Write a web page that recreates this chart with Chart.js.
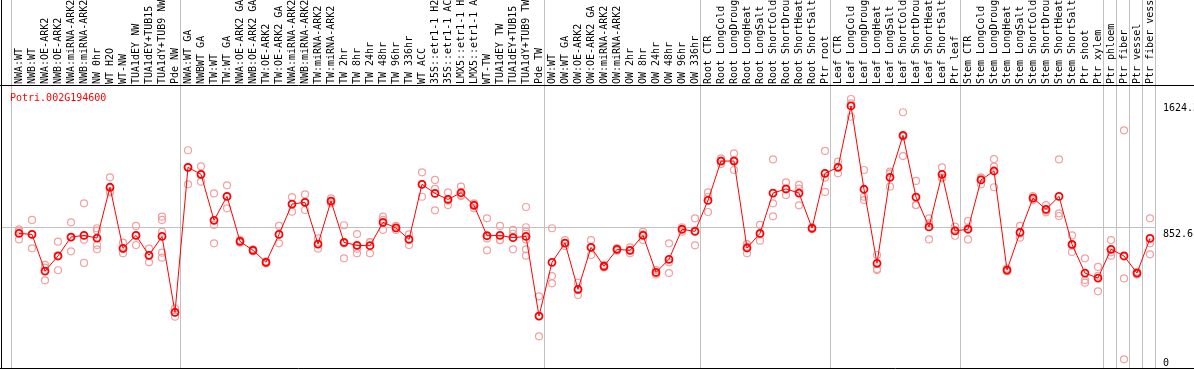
<!DOCTYPE html>
<html lang="en">
<head>
  <meta charset="UTF-8" />
  <title>Potri.002G194600</title>
  <script src="https://cdn.jsdelivr.net/npm/chart.js"></script>
  <style>
    html, body { margin: 0; padding: 0; background: #fff; }
    #wrap { width: 1194px; height: 370px; }
  </style>
</head>
<body>
  <div id="wrap"><canvas id="geneChart" width="1194" height="370"></canvas></div>

  <script>
    const geneName = 'Potri.002G194600';

    const labels = [
      'NWA:WT', 'NWB:WT', 'NWA:OE-ARK2', 'NWB:OE-ARK2', 'NWA:miRNA-ARK2', 'NWB:miRNA-ARK2',
      'NW 0hr', 'WT H2O', 'WT-NW', 'TUA1dEY NW', 'TUA1dEY+TUB15 NW', 'TUA1dY+TUB9 NW', 'Pde NW',
      'NWA:WT GA', 'NWBWT GA', 'TW:WT', 'TW:WT GA', 'NWA:OE-ARK2 GA', 'NWB:OE-ARK2 GA',
      'TW:OE-ARK2', 'TW:OE-ARK2 GA', 'NWA:miRNA-ARK2 GA', 'NWB:miRNA-ARK2 GA', 'TW:miRNA-ARK2',
      'TW:miRNA-ARK2 GA', 'TW 2hr', 'TW 8hr', 'TW 24hr', 'TW 48hr', 'TW 96hr', 'TW 336hr',
      'WT ACC', '35S::etr1-1 H2O', '35S::etr1-1 ACC', 'LMX5::etr1-1 H2O', 'LMX5::etr1-1 ACC',
      'WT-TW', 'TUA1dEY TW', 'TUA1dEY+TUB15 TW', 'TUA1dY+TUB9 TW', 'Pde TW',
      'OW:WT', 'OW:WT GA', 'OW:OE-ARK2', 'OW:OE-ARK2 GA', 'OW:miRNA-ARK2', 'OW:miRNA-ARK2 GA',
      'OW 2hr', 'OW 8hr', 'OW 24hr', 'OW 48hr', 'OW 96hr', 'OW 336hr',
      'Root CTR', 'Root LongCold', 'Root LongDrought', 'Root LongHeat', 'Root LongSalt',
      'Root ShortCold', 'Root ShortDrought', 'Root ShortHeat', 'Root ShortSalt', 'Ptr root',
      'Leaf CTR', 'Leaf LongCold', 'Leaf LongDrought', 'Leaf LongHeat', 'Leaf LongSalt',
      'Leaf ShortCold', 'Leaf ShortDrought', 'Leaf ShortHeat', 'Leaf ShortSalt', 'Ptr leaf',
      'Stem CTR', 'Stem LongCold', 'Stem LongDrought', 'Stem LongHeat', 'Stem LongSalt',
      'Stem ShortCold', 'Stem ShortDrought', 'Stem ShortHeat', 'Stem ShortSalt', 'Ptr shoot',
      'Ptr xylem', 'Ptr phloem', 'Ptr fiber', 'Ptr vessel', 'Ptr fiber vessel'
    ];

    // mean expression per sample
    const means = [
      814, 808, 587, 678, 792, 802, 786, 1092, 724, 802, 682, 796, 338,
      1212, 1170, 893, 1037, 766, 712, 640, 808, 991, 1001, 750, 1009, 760, 742, 740,
      881, 847, 778, 1110, 1055, 1019, 1059, 983, 800, 802, 788, 796, 316,
      640, 756, 477, 730, 616, 718, 712, 802, 579, 658, 839, 826,
      1013, 1250, 1250, 726, 814, 1057, 1082, 1057, 845, 1176,
      1212, 1582, 1080, 634, 1152, 1405, 1033, 853, 1170, 829,
      839, 1136, 1190, 593, 820, 1027, 959, 1037, 748, 575, 545,
      718, 678, 575, 784
    ];

    // individual replicates per sample
    const replicates = [
      [838, 778, 827], [895, 724, 808], [624, 531, 608], [764, 592, 678], [881, 706, 792],
      [995, 636, 776], [845, 831, 744, 718], [1152, 1061, 1066], [758, 694, 722], [859, 744, 802],
      [722, 640, 684], [915, 895, 824, 698, 668], [363, 312, 338],
      [1315, 1110, 1212], [1218, 1126, 1166], [1055, 865, 754], [1104, 965, 1037], [774, 766, 758],
      [718, 712, 706], [646, 640, 634], [859, 754, 808], [1033, 945, 991], [1049, 955, 1001],
      [784, 722, 750], [1025, 995, 1009], [863, 664, 754], [810, 694, 722], [762, 694, 762],
      [915, 835, 895], [859, 835, 847], [808, 744, 778], [1182, 1035, 1110], [1136, 1082, 953],
      [1061, 985, 1011], [1096, 1039, 1045], [995, 965, 989], [905, 712, 784], [859, 774, 774],
      [835, 718, 812], [973, 851, 824, 778, 718, 680], [435, 194, 316],
      [845, 557, 513], [774, 756, 738], [517, 443, 473], [774, 684, 730], [624, 608, 616],
      [726, 718, 710], [730, 694, 712], [824, 774, 808], [567, 593, 577], [754, 640, 575],
      [851, 824, 839], [905, 742, 831],
      [1061, 943, 1035], [1266, 1232, 1252], [1296, 1196, 1256], [750, 694, 734], [865, 770, 808],
      [1260, 995, 917], [1122, 1045, 1078], [1106, 983, 1084], [851, 845, 839], [1311, 1150, 1064],
      [1246, 1176, 1214], [1624, 1517, 1598], [1196, 1035, 1015], [684, 600, 593], [1186, 1096, 1176],
      [1544, 1397, 1280], [1130, 985, 985], [905, 778, 875], [1212, 1146, 1152], [855, 800, 831],
      [889, 778, 849], [1152, 1110, 1146], [1262, 1092, 1216], [602, 593, 585], [859, 788, 814],
      [1039, 1015, 1027], [985, 941, 951], [1260, 935, 919], [802, 702, 740], [664, 533, 517],
      [612, 465, 559],
      [774, 680, 700], [1435, 543, 55], [583, 575, 567], [905, 754, 688]
    ];

    // last sample index of each tissue block (vertical separators)
    const groupEnds = [-1, 12, 40, 52, 62, 72, 83, 84, 85, 86, 87];

    const yTicks = [0, 852.6, 1624.3];
    const yMax = 1705.2;

    const meanPoints = means.map((v, i) => ({ x: i, y: v }));
    const repPoints = [];
    replicates.forEach((reps, i) => reps.forEach(v => repPoints.push({ x: i, y: v })));

    const monoFont = { family: "'DejaVu Sans Mono', monospace", size: 10 };

    const framePlugin = {
      id: 'frame',
      beforeDatasetsDraw(chart) {
        const { ctx, chartArea, scales } = chart;
        ctx.save();
        ctx.strokeStyle = '#c0c0c0';
        ctx.lineWidth = 1;
        groupEnds.forEach(e => {
          const x = Math.round(scales.x.getPixelForValue(e) + 5) + 0.5;
          ctx.beginPath();
          ctx.moveTo(x, 0);
          ctx.lineTo(x, chartArea.bottom);
          ctx.stroke();
        });
        ctx.restore();
      },
      afterDraw(chart) {
        const { ctx, chartArea, scales, width } = chart;
        ctx.save();
        ctx.strokeStyle = '#000';
        ctx.lineWidth = 1;
        ctx.beginPath();
        ctx.moveTo(0, Math.round(chartArea.top) - 0.5);
        ctx.lineTo(width, Math.round(chartArea.top) - 0.5);
        ctx.moveTo(0, Math.round(chartArea.bottom) - 0.5);
        ctx.lineTo(width, Math.round(chartArea.bottom) - 0.5);
        ctx.moveTo(1.5, 0);
        ctx.lineTo(1.5, chartArea.bottom);
        ctx.stroke();

        ctx.font = "10px 'DejaVu Sans Mono', monospace";
        ctx.fillStyle = '#ff0000';
        ctx.textBaseline = 'alphabetic';
        ctx.textAlign = 'left';
        ctx.fillText(geneName, 10, 101);

        // y labels: kept inside the plot band
        ctx.fillStyle = '#000';
        const shift = [-2.5, 10, 12.5];
        yTicks.forEach((v, k) => {
          const y = scales.y.getPixelForValue(v) + shift[k];
          const txt = k === 0 ? '0' : String(v);
          ctx.fillText(txt, 1163, y);
        });
        ctx.restore();
      }
    };

    new Chart(document.getElementById('geneChart'), {
      type: 'scatter',
      data: {
        datasets: [
          {
            label: 'mean',
            data: meanPoints,
            showLine: true,
            borderColor: '#ff0000',
            borderWidth: 1,
            pointRadius: 3.5,
            pointBorderWidth: 1.8,
            pointBorderColor: '#ff0000',
            pointBackgroundColor: 'rgba(0,0,0,0)',
            tension: 0
          },
          {
            label: 'replicates',
            data: repPoints,
            showLine: false,
            pointRadius: 3.5,
            pointBorderWidth: 1.2,
            pointBorderColor: '#f2a0a0',
            pointBackgroundColor: 'rgba(0,0,0,0)'
          }
        ]
      },
      options: {
        responsive: false,
        animation: false,
        layout: { autoPadding: false, padding: { left: 1, right: 0, top: 0, bottom: 1.5 } },
        plugins: { legend: { display: false }, tooltip: { enabled: false } },
        scales: {
          x: {
            type: 'linear',
            position: 'top',
            min: -18 / 13,
            max: -18 / 13 + 1155 / 13,
            afterBuildTicks: s => { s.ticks = labels.map((_, i) => ({ value: i })); },
            afterFit: s => {
              s.height = 85.5;
              s.paddingLeft = 0;
              s.paddingRight = 0;
            },
            grid: { display: false, drawTicks: false },
            border: { display: false },
            ticks: {
              autoSkip: false,
              maxRotation: 90,
              minRotation: 90,
              padding: 1.5,
              labelOffset: 12,
              color: '#000',
              font: monoFont,
              callback: v => labels[v]
            }
          },
          y: {
            position: 'right',
            min: 0,
            max: yMax,
            afterBuildTicks: s => { s.ticks = yTicks.map(v => ({ value: v })); },
            afterFit: s => {
              s.width = 38;
              s.paddingTop = 0;
              s.paddingBottom = 0;
            },
            ticks: { display: false },
            grid: {
              drawTicks: false,
              color: c => (c.tick && c.tick.value === 852.6 ? '#c0c0c0' : 'rgba(0,0,0,0)')
            },
            border: { display: false }
          }
        }
      },
      plugins: [framePlugin]
    });
  </script>
</body>
</html>
